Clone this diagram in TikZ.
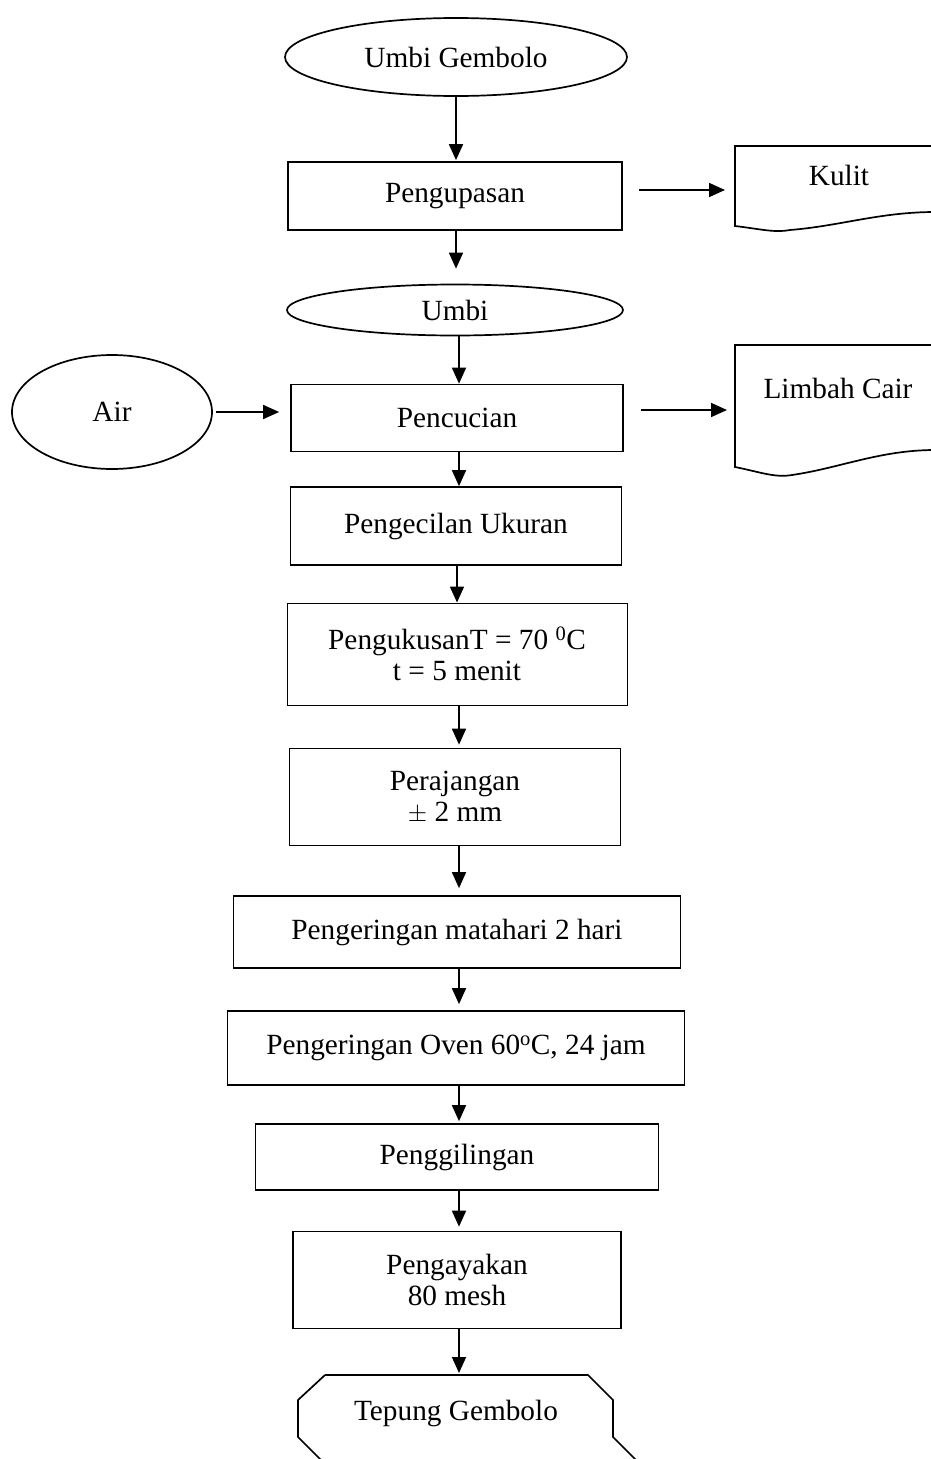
\documentclass[tikz,border=0pt]{standalone}
\usepackage{fontspec}
\setmainfont{Liberation Serif}
\usetikzlibrary{arrows.meta,shapes.geometric}
\begin{document}
\begin{tikzpicture}[x=1pt,y=-1pt,
  every node/.style={font=\fontsize{29.3}{31}\selectfont},
  box/.style={draw,line width=1.7pt,rectangle,inner sep=0pt,align=center},
  oval/.style={draw,line width=1.7pt,ellipse,inner sep=0pt},
  arr/.style={line width=1.7pt,-{Triangle[length=16pt,width=14pt]}},
  doc/.style={draw,line width=1.7pt}
]
\useasboundingbox (0,0) rectangle (931,1459);
\clip (0,0) rectangle (931,1459);
% main column
\node[oval,minimum width=342,minimum height=78] (umbig) at (456,57) {Umbi Gembolo};
\node[box,minimum width=334,minimum height=68] (kupas) at (455,196) {Pengupasan};
\node[oval,minimum width=336,minimum height=51] (umbi) at (455,310) {Umbi};
\node[box,minimum width=332,minimum height=67] (cuci) at (457,418) {Pencucian};
\node[oval,minimum width=200,minimum height=114] (air) at (112,412) {Air};
\node[box,minimum width=331,minimum height=78] (kecil) at (456,526) {Pengecilan Ukuran};
\node[box,line width=0.9pt,minimum width=340,minimum height=102] (kukus) at (457,654) {PengukusanT = 70 \textsuperscript{0}C\\t = 5 menit};
\node[box,minimum width=331,minimum height=97] (rajang) at (455,797) {Perajangan\\$\pm$ 2 mm};
\node[box,minimum width=447,minimum height=72] (matahari) at (457,932) {Pengeringan matahari 2 hari};
\node[box,minimum width=457,minimum height=74] (oven) at (456,1048) {Pengeringan Oven 60\textsuperscript{o}C, 24 jam};
\node[box,minimum width=403,minimum height=66] (giling) at (457,1157) {Penggilingan};
\node[box,minimum width=328,minimum height=97] (ayak) at (457,1280) {Pengayakan\\80 mesh};
% terminal octagon
\draw[line width=1.7pt] (325,1375) -- (588,1375) -- (613,1400) -- (613,1437) -- (636,1460)
  (325,1375) -- (298,1400) -- (298,1437) -- (321,1460);
\node (tepung) at (456,1413) {Tepung Gembolo};
\coordinate (tepungtop) at (456,1375);
% document shapes
\draw[doc] (931,146) -- (735,146) -- (735,226) .. controls (760,229) and (775,233) .. (790,230)
  .. controls (840,226) and (880,212) .. (935,212);
\node (kulit) at (839,175) {Kulit};
\coordinate (kulitL) at (735,190);
\draw[doc] (931,345) -- (735,345) -- (735,467) .. controls (760,472) and (775,478) .. (792,475)
  .. controls (840,468) and (880,450) .. (935,450);
\node (limbah) at (838,388) {Limbah Cair};
\coordinate (limbahL) at (735,410);
% connectors
\draw[arr] (umbig.south -| 456,0) -- ([yshift=1pt]kupas.north -| 456,0);
\draw[arr] (kupas.south -| 456,0) -- ([yshift=15pt]umbi.north -| 456,0);
\draw[arr] (umbi.south -| 459,0) -- (cuci.north -| 459,0);
\draw[arr] (cuci.south -| 459,0) -- (kecil.north -| 459,0);
\draw[arr] (kecil.south -| 457,0) -- (kukus.north -| 457,0);
\draw[arr] (kukus.south -| 459,0) -- ([yshift=3pt]rajang.north -| 459,0);
\draw[arr] (rajang.south -| 459,0) -- ([yshift=7pt]matahari.north -| 459,0);
\draw[arr] (matahari.south -| 459,0) -- ([yshift=6pt]oven.north -| 459,0);
\draw[arr] (oven.south -| 459,0) -- ([yshift=2pt]giling.north -| 459,0);
\draw[arr] (giling.south -| 459,0) -- ([yshift=4pt]ayak.north -| 459,0);
\draw[arr] (ayak.south -| 459,0) -- ([yshift=2pt]tepungtop -| 459,0);
\draw[arr,shorten <=16pt,shorten >=10pt] (kupas.east |- kulitL) -- (kulitL);
\draw[arr,shorten <=17pt,shorten >=8pt] (cuci.east |- limbahL) -- (limbahL);
\draw[arr,shorten <=3pt,shorten >=11pt] (air.east) -- (air.east -| cuci.west);
\end{tikzpicture}
\end{document}
